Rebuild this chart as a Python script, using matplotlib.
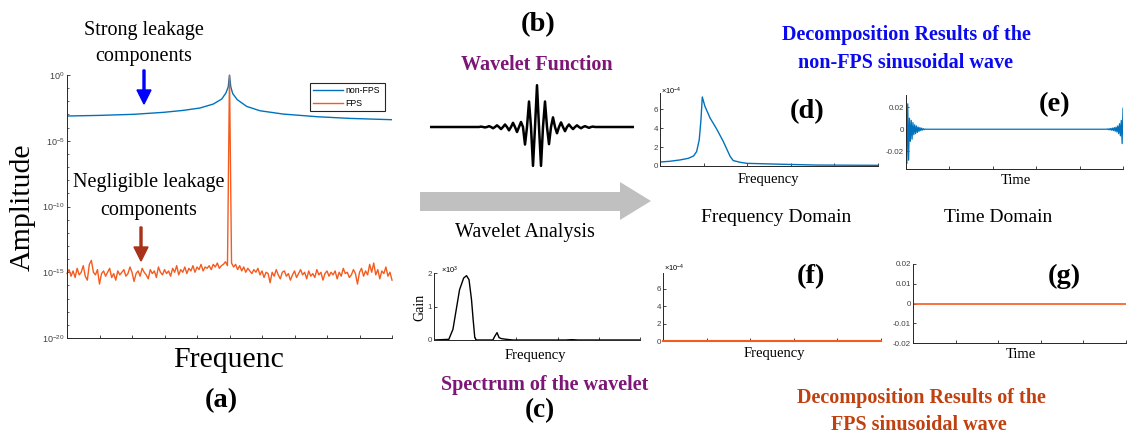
import numpy as np
import matplotlib
matplotlib.use('Agg')
import matplotlib.pyplot as plt
from matplotlib.patches import Polygon, FancyArrow
from matplotlib.ticker import FixedLocator, NullFormatter

W, H = 1127, 434
plt.rcParams['font.family'] = ['Liberation Sans', 'DejaVu Sans']
plt.rcParams['mathtext.fontset'] = 'custom'
plt.rcParams['mathtext.rm'] = 'Liberation Sans'
plt.rcParams['mathtext.it'] = 'Liberation Sans:italic'
plt.rcParams['mathtext.bf'] = 'Liberation Sans:bold'

SERIF = ['Liberation Serif', 'DejaVu Serif']
BLUE = '#0072BD'
ORANGE = '#F45B1E'
AXC = '#262626'
PURPLE = '#7D1676'
TITLE_BLUE = '#0A0AF0'
TITLE_RED = '#C04010'

# ---------------- data ----------------
# (a) spectrum, x in tick units (0..10), amplitude as log10
nonfps_f = [0, 1.02, 2.05, 2.97, 3.58, 4.09, 4.50, 4.76, 4.89, 4.96, 5.0,
            5.04, 5.10, 5.24, 5.53, 5.94, 6.65, 7.68, 8.70, 10.0]
nonfps_log = [-3.12, -3.07, -2.99, -2.84, -2.69, -2.51, -2.21, -1.83, -1.37, -0.91, 0.0,
              -0.91, -1.42, -1.88, -2.39, -2.72, -2.97, -3.17, -3.30, -3.40]
fps_log = [
    -15.1, -14.8, -15.3, -14.9, -15.4, -14.7, -15.2, -15.0, -14.5, -15.3,
    -15.6, -14.4, -14.1, -15.0, -15.2, -14.8, -15.9, -15.1, -14.9, -15.3,
    -15.0, -14.7, -15.4, -15.1, -15.6, -14.9, -15.2, -15.0, -14.8, -15.3,
    -15.1, -14.6, -15.0, -15.7, -15.1, -14.9, -15.3, -14.7, -15.0, -15.2,
    -15.5, -14.8, -15.1, -14.9, -15.4, -14.6, -15.0, -15.2, -14.8, -15.1,
    -14.9, -15.3, -14.7, -15.0, -14.5, -15.2, -14.8, -15.0, -14.6, -15.1,
    -14.7, -14.9, -14.5, -15.0, -14.6, -14.8, -14.4, -14.9, -14.6, -14.7,
    -14.5, -14.8, -14.4, -14.6, -14.3, -14.7, -14.5, -14.4, -14.2, -14.5,
    0.0,
    -14.3, -14.6, -14.4, -14.8, -14.5, -14.9, -14.6, -15.0, -14.7, -14.9,
    -15.1, -14.8, -15.0, -14.7, -15.2, -14.9, -15.4, -15.0, -15.1, -15.8,
    -15.0, -15.3, -14.8, -15.2, -15.5, -15.0, -14.9, -15.3, -15.1, -15.6,
    -15.2, -14.9, -15.4, -15.1, -14.8, -15.2, -15.0, -15.5, -14.9, -15.3,
    -15.1, -15.4, -14.8, -15.2, -15.0, -15.6, -15.1, -14.9, -15.3, -15.0,
    -15.2, -14.9, -15.5, -15.0, -15.3, -14.7, -15.1, -15.0, -15.4, -15.2,
    -14.8, -15.1, -15.9, -15.0, -14.7, -15.3, -14.9, -15.2, -14.4, -15.0,
    -14.3, -15.2, -14.8, -15.5, -14.9, -15.1, -14.6, -15.3, -15.0, -15.6]
fps_f = np.linspace(0, 10, len(fps_log))

# (b) wavelet: extrema amplitudes, one per half period, centred on index 0
wav_extrema = [0.01, -0.01, 0.02, -0.03, 0.04, -0.05, 0.06, -0.08, 0.10, -0.12, 0.12, -0.42, 0.61,
               -0.93, 1.0, -0.93,
               0.61, -0.41, 0.23, -0.15, 0.11, -0.10, 0.06, -0.05, 0.04, -0.03, 0.02, -0.02, 0.01]
wav_center = 14          # index of the main peak
wav_range = (-26.75, 24.25)

# (c) spectrum of the wavelet (x10^3)
c_freq = [0, 0.36, 0.46, 0.54, 0.62, 0.72, 0.79, 0.85, 0.91, 0.95, 0.99, 1.03,
          1.43, 1.47, 1.53, 1.58, 1.64, 1.76, 1.92, 3.2, 3.34, 3.5, 5.0]
c_gain = [0, 0.02, 0.32, 0.91, 1.5, 1.85, 1.92, 1.8, 1.21, 0.61, 0.07, 0,
          0, 0.10, 0.22, 0.07, 0.04, 0.02, 0, 0, 0.01, 0, 0]

# (d) frequency domain, non-FPS (x10^-4)
d_freq = [0, 0.23, 0.46, 0.65, 0.77, 0.84, 0.90, 0.94, 0.97, 1.03, 1.15, 1.30, 1.45,
          1.61, 1.68, 1.84, 1.99, 2.83, 3.60, 5.0]
d_amp = [0.42, 0.5, 0.64, 0.81, 1.06, 1.52, 2.76, 4.9, 7.28, 6.3, 5.05, 3.9, 2.6,
         1.0, 0.57, 0.39, 0.28, 0.18, 0.10, 0.07]

# (e) time domain, non-FPS: burst at the start and at the end
e_step = 0.02
e_head = [0.024, -0.031, 0.023, -0.028, 0.010, -0.011, 0.008, -0.009, 0.006, -0.005,
          0.004, -0.004, 0.003, -0.003, 0.002, -0.002, 0.0015, -0.0012, 0.001, -0.0008,
          0.0005, -0.0004, 0.0002, 0.0]
e_tail = [0.0, 0.0003, -0.0004, 0.0005, -0.0006, 0.0008, -0.0009, 0.001, -0.0012, 0.0015,
          -0.0018, 0.002, -0.0025, 0.003, -0.004, 0.005, -0.006, 0.008, -0.013, 0.019]
e_end = 5.0

# (f), (g) FPS results: zero everywhere
f_freq = [0, 5]
f_amp = [0, 0]
g_time = [0, 5]
g_val = [0, 0]

# ---------------- figure ----------------
fig = plt.figure(figsize=(W / 100, H / 100), dpi=100)


def px_axes(l, t, r, b):
    return fig.add_axes([l / W, 1 - b / H, (r - l) / W, (b - t) / H])


def style(ax, lab=5.8):
    for s in ['top', 'right']:
        ax.spines[s].set_visible(False)
    for s in ['left', 'bottom']:
        ax.spines[s].set_color(AXC)
        ax.spines[s].set_linewidth(0.7)
    ax.tick_params(direction='in', length=2.5, width=0.6, colors=AXC,
                   labelsize=lab, pad=1.5)
    ax.tick_params(axis='y', labelcolor='#404040')
    ax.tick_params(axis='x', labelbottom=False)
    ax.set_facecolor('none')


# (a)
axa = px_axes(67, 75, 392, 338)
style(axa, 6.5)
axa.set_yscale('log')
axa.plot(nonfps_f, 10 ** np.array(nonfps_log), color=BLUE, lw=1.0, label='non-FPS')
axa.plot(fps_f, 10 ** np.array(fps_log), color=ORANGE, lw=1.0, label='FPS', clip_on=False)
axa.set_xlim(0, 10)
axa.set_ylim(1e-20, 1)
axa.set_xticks(range(11))
axa.yaxis.set_major_locator(FixedLocator([1e-20, 1e-15, 1e-10, 1e-5, 1]))
axa.yaxis.set_minor_locator(FixedLocator([10.0 ** k for k in range(-20, 1)]))
axa.yaxis.set_minor_formatter(NullFormatter())
axa.tick_params(axis='y', which='minor', direction='in', length=1.5, width=0.5, colors=AXC)
leg = axa.legend(loc='upper left', bbox_to_anchor=(310 / W, 1 - 111 / H, 75 / W, 28 / H),
                 bbox_transform=fig.transFigure, mode='expand', borderaxespad=0,
                 fontsize=6.3, handlelength=3.4, handletextpad=0.3, borderpad=0.35,
                 labelspacing=0.4, fancybox=False, edgecolor=AXC, framealpha=1)
leg.get_frame().set_linewidth(0.8)

# (b) wavelet
axb = px_axes(430, 83, 634, 171)
axb.axis('off')
wx, wy = [wav_range[0]], [0.0]
for i, v in enumerate(wav_extrema):
    k = i - wav_center
    wx += [k - 0.5, k]
    wy += [0.0, v]
wx += [len(wav_extrema) - wav_center - 0.5, wav_range[1]]
wy += [0.0, 0.0]
axb.plot(wx, np.array(wy) * 0.95, color='black', lw=1.8, solid_joinstyle='round')
axb.set_xlim(*wav_range)
axb.set_ylim(-1, 1)

# (c)
axc = px_axes(434, 273, 640, 340)
style(axc)
axc.plot(c_freq, c_gain, color='black', lw=1.0)
axc.set_xlim(0, 5)
axc.set_ylim(0, 2)
axc.set_xticks(range(6))
axc.set_yticks([0, 1, 2], ['0', '1', '2'])

# (d)
axd = px_axes(660, 93, 878, 166)
style(axd)
axd.plot(d_freq, d_amp, color=BLUE, lw=1.0)
axd.set_xlim(0, 5)
axd.set_ylim(0, 7.7)
axd.set_xticks(range(6))
axd.set_yticks([0, 2, 4, 6], ['0', '2', '4', '6'])

# (e)
axe = px_axes(906, 95, 1123, 169)
style(axe)
head_t = np.arange(len(e_head)) * e_step
tail_t = e_end - (len(e_tail) - 1 - np.arange(len(e_tail))) * e_step
axe.plot(np.concatenate([head_t, tail_t]), np.concatenate([e_head, e_tail]),
         color=BLUE, lw=0.9)
axe.set_xlim(0, 5)
axe.set_ylim(-0.036, 0.031)
axe.set_xticks(range(6))
axe.set_yticks([-0.02, 0, 0.02], ['-0.02', '0', '0.02'])

# (f)
axf = px_axes(663, 273, 881, 341)
style(axf)
axf.plot(f_freq, f_amp, color=ORANGE, lw=1.5, clip_on=False, zorder=5)
axf.set_xlim(0, 5)
axf.set_ylim(0, 7.84)
axf.set_xticks(range(6))
axf.set_yticks([0, 2, 4, 6], ['0', '2', '4', '6'])

# (g)
axg = px_axes(913, 264, 1126, 343)
style(axg)
axg.plot(g_time, g_val, color=ORANGE, lw=1.2)
axg.set_xlim(0, 5)
axg.set_ylim(-0.02, 0.02)
axg.set_xticks(range(6))
axg.set_yticks([-0.02, -0.01, 0, 0.01, 0.02], ['-0.02', '-0.01', '0', '0.01', '0.02'])

# ---------------- overlay (pixel coordinates) ----------------
ov = fig.add_axes([0, 0, 1, 1])
ov.set_xlim(0, W)
ov.set_ylim(H, 0)
ov.axis('off')
ov.patch.set_alpha(0)


def t(x, y, s, size=14.5, weight='normal', color='black', rot=0, family=SERIF, ha='center'):
    ov.text(x, y, s, fontsize=size, fontweight=weight, color=color, rotation=rot,
            family=family, ha=ha, va='center')


# gray arrow
ov.add_patch(Polygon([(420, 192), (620, 192), (620, 182), (651, 201), (620, 220),
                      (620, 211), (420, 211)], closed=True, facecolor='#C0C0C0',
                     edgecolor='none'))
# annotation arrows
ov.add_patch(FancyArrow(144, 70, 0, 34, width=2, head_width=14, head_length=14,
                        length_includes_head=True, color='#0000FF'))
ov.add_patch(FancyArrow(141, 227, 0, 34, width=2, head_width=14, head_length=14,
                        length_includes_head=True, color='#A8321A'))

t(144, 30, 'Strong leakage')
t(144, 56, 'components')
t(149, 183, 'Negligible leakage')
t(149, 210, 'components')
t(23, 207, 'Amplitude', size=21.5, rot=90)
t(229, 360, 'Frequenc', size=21.5)
t(221, 401, '(a)', size=20.5, weight='bold')

t(538, 25, '(b)', size=20.5, weight='bold')
t(537, 65, 'Wavelet Function', weight='bold', color=PURPLE)
t(525, 233, 'Wavelet Analysis')
t(420, 307, 'Gain', size=10, rot=90)
t(535, 355, 'Frequency', size=10.5)
t(545, 385, 'Spectrum of the wavelet', weight='bold', color=PURPLE)
t(540, 411, '(c)', size=19.5, weight='bold')
t(441, 270, r'$\times10^{3}$', size=5.3, family=['Liberation Sans'], ha='left')

t(906, 35, 'Decomposition Results of the', weight='bold', color=TITLE_BLUE)
t(906, 63, 'non-FPS sinusoidal wave', weight='bold', color=TITLE_BLUE)
t(921, 398, 'Decomposition Results of the', weight='bold', color=TITLE_RED)
t(919, 425, 'FPS sinusoidal wave', weight='bold', color=TITLE_RED)

t(807, 112, '(d)', size=20.5, weight='bold')
t(1055, 105, '(e)', size=20.5, weight='bold')
t(811, 277, '(f)', size=20.5, weight='bold')
t(1064, 276, '(g)', size=20.5, weight='bold')

t(768, 180, 'Frequency', size=10.5)
t(1016, 180, 'Time', size=10.5)
t(774, 353, 'Frequency', size=10.5)
t(1021, 355, 'Time', size=10.5)
t(776, 218, 'Frequency Domain', size=14)
t(998, 218, 'Time Domain', size=14)

t(661, 91, r'$\times10^{-4}$', size=5.3, family=['Liberation Sans'], ha='left')
t(664, 268, r'$\times10^{-4}$', size=5.3, family=['Liberation Sans'], ha='left')

fig.savefig('out.png', dpi=100)
